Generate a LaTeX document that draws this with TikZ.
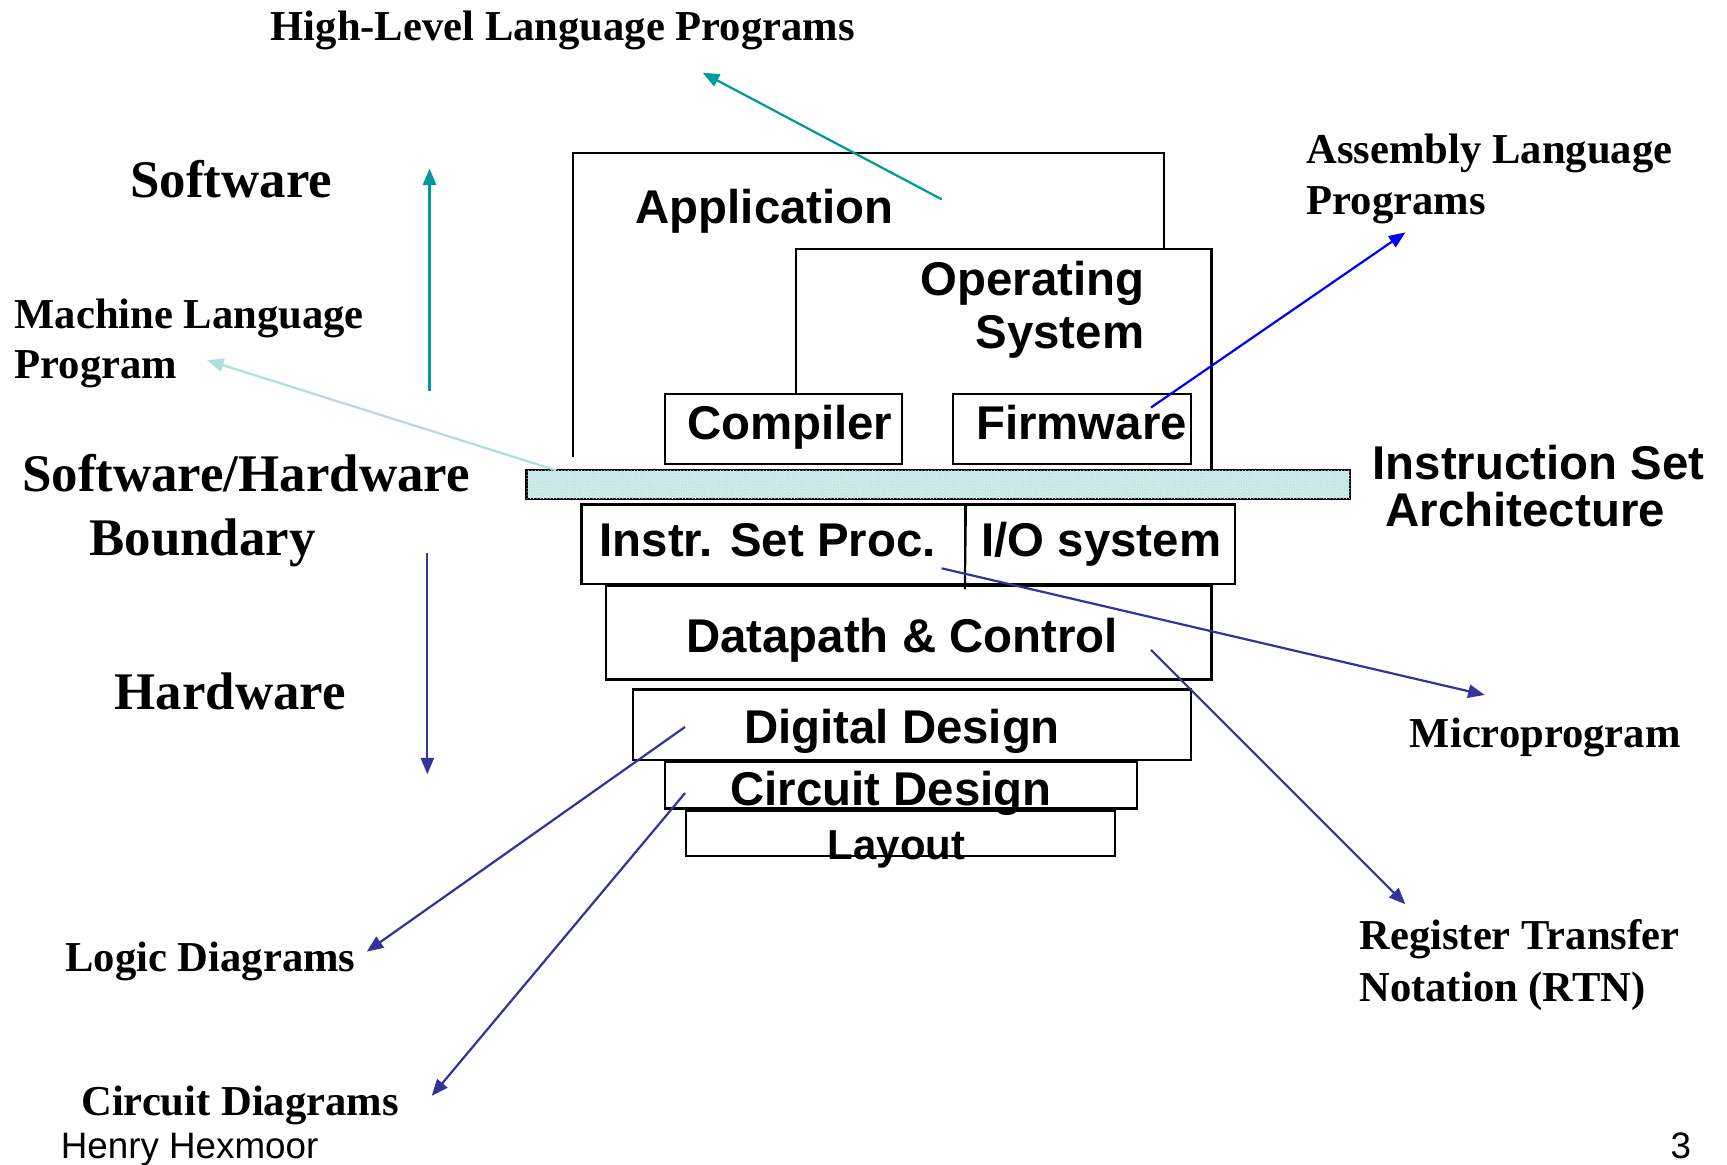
\documentclass[tikz,border=0pt]{standalone}
\usepackage{fontspec}
\setmainfont{Liberation Serif}
\setsansfont{Liberation Sans}
\usetikzlibrary{arrows.meta,patterns}
\definecolor{tealc}{RGB}{0,153,153}
\definecolor{lightc}{RGB}{176,222,222}
\definecolor{bluec}{RGB}{0,0,255}
\definecolor{navyc}{RGB}{51,51,153}
\definecolor{isafill}{RGB}{196,230,230}
\begin{document}
\begin{tikzpicture}[x=1pt,y=-1pt,
  blk/.style={draw, line width=2pt, inner sep=0pt},
  isabar/.style={draw, line width=2pt, inner sep=0pt, fill=isafill,
     postaction={pattern=crosshatch dots, pattern color=white!70!isafill}},
  sanslbl/.style={inner sep=0pt, font=\fontsize{43}{48}\selectfont\sffamily\bfseries},
  serifbig/.style={inner sep=0pt, font=\fontsize{48}{58}\selectfont\rmfamily\bfseries},
  serifmed/.style={inner sep=0pt, font=\fontsize{38.7}{47}\selectfont\rmfamily\bfseries},
  footlbl/.style={inner sep=0pt, font=\fontsize{33.4}{40}\selectfont\sffamily},
  arw/.style={line width=2pt, -{Triangle[length=15pt,width=12pt]}}
]
\useasboundingbox (0,0) rectangle (1568,1057);

% open outlines of Application and Operating System
\coordinate (appA) at (520,415);
\coordinate (appB) at (520,139);
\coordinate (appC) at (1057,139);
\coordinate (appD) at (1057,226);
\draw[line width=2pt] (appA) -- (appB) -- (appC) -- (appD);
\coordinate (osA) at (723,357);
\coordinate (osB) at (723,226);
\coordinate (osC) at (1100,226);
\coordinate (osD) at (1100,426);
\draw[line width=2pt] (osA) -- (osB) -- (osC) -- (osD);

% boxes
\node[blk, minimum width=215pt, minimum height=63pt] (comp) at (711.5,389.5) {};
\node[blk, minimum width=216pt, minimum height=63pt] (firm) at (973,389.5) {};
\node[isabar, minimum width=748pt, minimum height=26pt] (isa) at (852,440) {};
\node[blk, minimum width=348pt, minimum height=72pt] (isp) at (702,494) {};
\node[blk, minimum width=245pt, minimum height=72pt] (ios) at (998.5,494) {};
\coordinate (divB) at (876,535);
\draw[line width=2pt] (isp.north east) -- (divB);
\node[blk, minimum width=550pt, minimum height=85pt] (dpc) at (825,574.5) {};
\node[blk, minimum width=506pt, minimum height=64pt] (dig) at (828,658) {};
\node[blk, minimum width=428pt, minimum height=42pt] (cir) at (818,713) {};
\node[blk, minimum width=389pt, minimum height=41pt] (lay) at (817.5,756.5) {};

% box texts
\node[sanslbl, anchor=base west] (tapp) at (577,203) {Application};
\node[sanslbl, anchor=base east, align=right] (tos) at (1039,316) {Operating\\System};
\node[sanslbl, anchor=base] (tcomp) at (717,399) {Compiler};
\node[sanslbl, anchor=base] (tfirm) at (982,399) {Firmware};
\node[sanslbl, anchor=base] (tisp) at (697,505) {Instr. Set Proc.};
\node[sanslbl, anchor=base] (tios) at (1000,505) {I/O system};
\node[sanslbl, anchor=base] (tdpc) at (819,592) {Datapath \& Control};
\node[sanslbl, anchor=base] (tdig) at (819,675) {Digital Design};
\node[sanslbl, anchor=base] (tcir) at (809,731) {Circuit Design};
\node[sanslbl, font=\fontsize{38}{42}\selectfont\sffamily\bfseries, anchor=base] (tlay) at (814,780) {Layout};
\node[sanslbl, font=\fontsize{43}{43}\selectfont\sffamily\bfseries, anchor=base west, align=left] (tisa) at (1246,478) {Instruction Set\\\hspace*{12pt}Architecture};

% side labels
\node[serifmed, anchor=base] (hll) at (511,37) {High-Level Language Programs};
\node[serifbig, anchor=base] (sw) at (210,179) {Software};
\node[serifmed, font=\fontsize{38.7}{46}\selectfont\rmfamily\bfseries, anchor=base west, align=left] (mlp) at (13,344) {Machine Language\\Program};
\node[serifbig, anchor=base west, align=left] (shb) at (20,504) {Software/Hardware\\\hspace*{61pt}Boundary};
\node[serifbig, anchor=base] (hw) at (209,644) {Hardware};
\node[serifmed, anchor=base west, align=left] (alp) at (1186,195) {Assembly Language\\Programs};
\node[serifmed, anchor=base] (mp) at (1403,679) {Microprogram};
\node[serifmed, anchor=base west, align=left] (rtn) at (1234,909) {Register Transfer\\Notation (RTN)};
\node[serifmed, anchor=base] (ld) at (191,882) {Logic Diagrams};
\node[serifmed, anchor=base] (cd) at (218,1013) {Circuit Diagrams};
\node[footlbl, anchor=base west] (auth) at (55,1052) {Henry Hexmoor};
\node[footlbl, anchor=base] (pg) at (1526,1052) {3};

% arrow end points
\coordinate (hlS) at (855,181);  \coordinate (hlE) at (638,66);
\coordinate (swS) at (390,355);  \coordinate (swE) at (390,153);
\coordinate (mlS) at (505,427);  \coordinate (mlE) at (188,327);
\coordinate (alS) at (1045,370); \coordinate (alE) at (1276,211);
\coordinate (hwS) at (388,502);  \coordinate (hwE) at (388,703);
\coordinate (mpS) at (855,516);  \coordinate (mpE) at (1348,631);
\coordinate (rtS) at (1045,590); \coordinate (rtE) at (1276,821);
\coordinate (ldS) at (622,660);  \coordinate (ldE) at (333,864);
\coordinate (cdS) at (622,720);  \coordinate (cdE) at (392,995);

\draw[arw, tealc] (hlS) -- (hlE);
\draw[arw, tealc] (swS) -- (swE);
\draw[arw, lightc] (mlS) -- (mlE);
\draw[arw, bluec] (alS) -- (alE);
\draw[arw, navyc] (hwS) -- (hwE);
\draw[arw, navyc] (mpS) -- (mpE);
\draw[arw, navyc] (rtS) -- (rtE);
\draw[arw, navyc] (ldS) -- (ldE);
\draw[arw, navyc] (cdS) -- (cdE);
\end{tikzpicture}
\end{document}
